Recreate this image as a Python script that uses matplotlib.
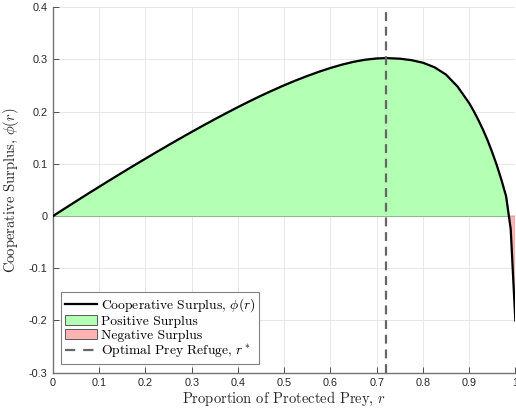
import numpy as np
import matplotlib
matplotlib.use('Agg')
import matplotlib.pyplot as plt
from matplotlib.patches import Patch
from matplotlib.lines import Line2D

# values
r = [0.0, 0.025, 0.05, 0.075, 0.1, 0.125, 0.15, 0.175, 0.2, 0.225, 0.25,
     0.275, 0.3, 0.325, 0.35, 0.375, 0.4, 0.425, 0.45, 0.475, 0.5, 0.525,
     0.55, 0.575, 0.6, 0.625, 0.65, 0.675, 0.7, 0.72, 0.75, 0.775, 0.8,
     0.825, 0.85, 0.875, 0.9, 0.91, 0.92, 0.93, 0.94, 0.95, 0.96, 0.97,
     0.98, 0.99, 1.0]
phi = [0.0, 0.0143, 0.0284, 0.0424, 0.0562, 0.0699, 0.0834, 0.0968, 0.1100,
       0.1231, 0.1360, 0.1487, 0.1612, 0.1735, 0.1855, 0.1972, 0.2087, 0.2198,
       0.2305, 0.2407, 0.2505, 0.2597, 0.2683, 0.2763, 0.2836, 0.2900, 0.2954,
       0.2994, 0.3018, 0.3025, 0.3014, 0.2986, 0.2937, 0.2850, 0.2710, 0.2480,
       0.2165, 0.2010, 0.1840, 0.1655, 0.1450, 0.1220, 0.0970, 0.0690, 0.0380,
       -0.0250, -0.2000]
r_opt = 0.72

xticks = [0, 0.1, 0.2, 0.3, 0.4, 0.5, 0.6, 0.7, 0.8, 0.9, 1]
yticks = [-0.3, -0.2, -0.1, 0, 0.1, 0.2, 0.3, 0.4]

plt.rcParams['mathtext.fontset'] = 'cm'
plt.rcParams['axes.unicode_minus'] = False
serif = {'family': 'cmr10'}

r = np.array(r)
phi = np.array(phi)

fig = plt.figure(figsize=(5.16, 4.13), dpi=100)
ax = fig.add_axes([0.1027, 0.0976, 0.896, 0.885])

green = '#b3ffb3'
red = '#ffb3b3'
ax.fill_between(r, 0, phi, where=phi >= 0, interpolate=True, facecolor=green,
                edgecolor='#8aa88a', linewidth=0.6, zorder=2)
ax.fill_between(r, 0, phi, where=phi <= 0, interpolate=True, facecolor=red,
                edgecolor='#b09090', linewidth=0.6, zorder=2)
ax.plot(r, phi, color='black', linewidth=1.6, zorder=4)
ax.axvline(r_opt, color='#666666', linewidth=1.6, dashes=(4.0, 2.6), zorder=5)

ax.set_xlim(0, 1)
ax.set_ylim(-0.3, 0.4)
ax.set_xticks(xticks)
ax.set_xticklabels(['0', '0.1', '0.2', '0.3', '0.4', '0.5', '0.6', '0.7', '0.8', '0.9', '1'])
ax.set_yticks(yticks)
ax.set_yticklabels(['-0.3', '-0.2', '-0.1', '0', '0.1', '0.2', '0.3', '0.4'])
ax.tick_params(direction='in', length=4, width=0.7, color='0.3',
               labelsize=7.8, labelcolor='#262626', pad=4)
for lab in ax.get_xticklabels() + ax.get_yticklabels():
    lab.set_family('Liberation Sans')
ax.grid(True, color='#e3e3e3', linewidth=0.6, zorder=0)
ax.set_axisbelow(True)
for s in ['top', 'right']:
    ax.spines[s].set_visible(False)
for s in ['left', 'bottom']:
    ax.spines[s].set_color('0.45')
    ax.spines[s].set_linewidth(1.0)

ax.set_xlabel('Proportion of Protected Prey, $r$', fontsize=10.5, color='#262626', **serif)
ax.set_ylabel('Cooperative Surplus, $\\phi(r)$', fontsize=10.5, color='#262626', **serif)
ax.xaxis.set_label_coords(0.5, -0.048)
ax.yaxis.set_label_coords(-0.07, 0.5)

handles = [Line2D([], [], color='black', linewidth=1.6),
           Patch(facecolor=green, edgecolor='0.35', linewidth=0.7),
           Patch(facecolor=red, edgecolor='0.35', linewidth=0.7),
           Line2D([], [], color='#666666', linewidth=1.6, dashes=(4.6, 3.6))]
labels = ['Cooperative Surplus, $\\phi(r)$', 'Positive Surplus', 'Negative Surplus',
          'Optimal Prey Refuge, $r^*$']
leg = ax.legend(handles, labels, loc='lower left', bbox_to_anchor=(0.0166, 0.023),
                prop={'family': 'cmr10', 'size': 9.8}, fancybox=False,
                framealpha=1, edgecolor='0.5', handlelength=2.4,
                handletextpad=0.25, labelspacing=0.1, borderpad=0.3,
                borderaxespad=0)
leg.get_frame().set_linewidth(0.8)

fig.savefig('out.png', dpi=100)
